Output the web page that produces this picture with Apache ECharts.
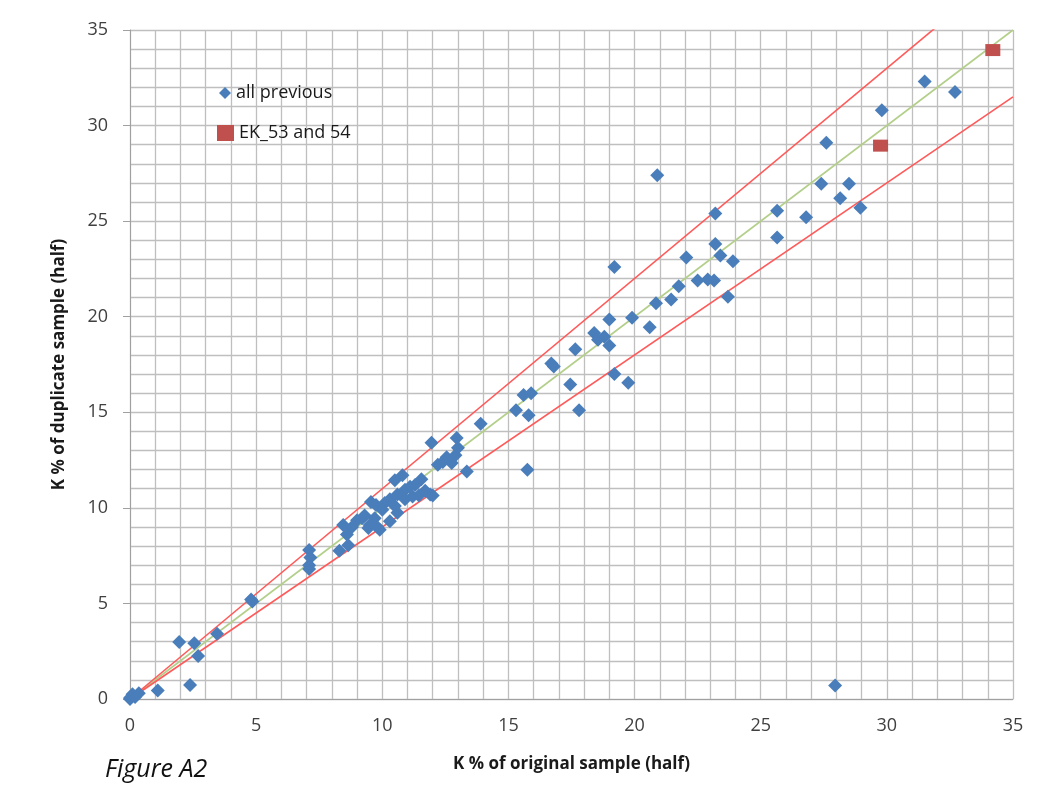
<!DOCTYPE html>
<html>
<head>
<meta charset="utf-8">
<script src="https://cdn.jsdelivr.net/npm/echarts@6/dist/echarts.min.js"></script>
<style>
  html, body { margin: 0; padding: 0; background: #fff; }
  #chart { width: 1061px; height: 796px; }
</style>
</head>
<body>
<div id="chart"></div>
<script>
// K % original (x) vs duplicate (y)
var prevX = [0, 0.05, 0.1, 0.2, 0.35, 0, 1.1, 1.95, 2.55, 2.7, 2.38, 3.45, 4.8, 4.85,
  7.1, 7.15, 7.1, 7.1,
  8.3, 8.45, 8.6, 8.65, 8.8, 9.0, 9.2, 9.3, 9.5, 9.45, 9.55, 9.7, 9.8, 9.9, 9.75, 10.0,
  10.1, 10.3, 10.5, 10.3, 10.6, 10.6, 10.5, 10.8, 10.9, 10.9, 11.1, 11.2, 11.3, 11.45,
  11.55, 11.7, 11.9, 12.0, 11.95, 12.2, 12.4, 12.55, 12.75, 12.9, 13.0, 12.95, 13.35, 13.9,
  15.3, 15.6, 15.9, 15.8, 15.75, 16.7, 16.8, 17.45, 17.65, 17.8, 18.4, 18.55, 18.8, 19.0,
  19.0, 19.2, 19.2, 19.75, 19.9, 20.6, 20.85, 20.9, 21.45, 21.75, 22.05, 22.5, 22.9, 23.15,
  23.2, 23.2, 23.4, 23.7, 23.9,
  25.65, 25.65, 26.8, 27.4, 27.6, 27.95, 28.15, 28.5, 28.95, 29.8, 31.5, 32.7];
var prevY = [0, 0.1, 0.25, 0.1, 0.3, 0.05, 0.45, 2.98, 2.92, 2.25, 0.73, 3.42, 5.2, 5.1,
  7.8, 7.4, 7.0, 6.8,
  7.75, 9.1, 8.6, 8.05, 9.0, 9.35, 9.45, 9.6, 9.1, 8.95, 10.3, 9.45, 9.0, 8.85, 10.15, 9.9,
  10.25, 10.45, 10.1, 9.3, 10.7, 9.75, 11.45, 11.7, 10.95, 10.45, 11.1, 10.6, 11.2, 10.65,
  11.5, 10.9, 10.7, 10.65, 13.4, 12.25, 12.4, 12.65, 12.35, 12.75, 13.15, 13.65, 11.9, 14.4,
  15.1, 15.9, 16.0, 14.85, 12.0, 17.55, 17.4, 16.45, 18.3, 15.1, 19.15, 18.8, 18.95, 19.85,
  18.5, 17.0, 22.6, 16.55, 19.95, 19.45, 20.7, 27.4, 20.9, 21.6, 23.1, 21.9, 21.95, 21.9,
  25.4, 23.8, 23.2, 21.05, 22.9,
  25.55, 24.15, 25.2, 26.95, 29.1, 0.7, 26.2, 26.95, 25.7, 30.8, 32.3, 31.75];
var ekX = [29.75, 34.2];
var ekY = [28.95, 33.95];

// reference lines: 1:1 and +/-10 %
var oneToOne = [[0, 0], [35, 35]];
var upperTen = [[0, 0], [35, 38.5]];
var lowerTen = [[0, 0], [35, 31.5]];
var axisTicks = [0, 5, 10, 15, 20, 25, 30, 35];

function zip(xs, ys) {
  return xs.map(function (x, i) { return [x, ys[i]]; });
}

var font = 'Open Sans';
var gridColor = '#bfbfbf';
var chart = echarts.init(document.getElementById('chart'));

var legendText = { fontSize: 18, color: '#1a1a1a', fontFamily: font };

var option = {
  animation: false,
  textStyle: { fontFamily: font },
  grid: { left: 130, right: 48, top: 30, bottom: 97 },
  legend: [
    {
      left: 214,
      top: 79,
      itemWidth: 12,
      itemHeight: 12,
      itemGap: 5,
      textStyle: legendText,
      data: [{ name: 'all previous', icon: 'diamond' }]
    },
    {
      left: 212,
      top: 119,
      itemWidth: 17,
      itemHeight: 16,
      itemGap: 5,
      textStyle: legendText,
      data: [{ name: 'EK_53 and 54', icon: 'rect' }]
    }
  ],
  xAxis: {
    type: 'value',
    min: axisTicks[0],
    max: axisTicks[axisTicks.length - 1],
    interval: 5,
    name: 'K % of original sample (half)',
    nameLocation: 'middle',
    nameGap: 57,
    nameTextStyle: { fontSize: 17, fontWeight: 'bold', color: '#1a1a1a' },
    axisLine: { lineStyle: { color: '#a0a0a0' } },
    axisTick: { show: false },
    axisLabel: { fontSize: 18, color: '#404040', margin: 18 },
    splitLine: { lineStyle: { color: gridColor, width: 1.3 } },
    minorTick: { show: false, splitNumber: 5 },
    minorSplitLine: { show: true, lineStyle: { color: gridColor, width: 1.3 } }
  },
  yAxis: {
    type: 'value',
    min: axisTicks[0],
    max: axisTicks[axisTicks.length - 1],
    interval: 5,
    name: 'K % of duplicate sample (half)',
    nameLocation: 'middle',
    nameGap: 62,
    nameTextStyle: { fontSize: 17, fontWeight: 'bold', color: '#1a1a1a' },
    axisLine: { show: true, lineStyle: { color: '#a0a0a0' } },
    axisTick: { show: true, length: 7, lineStyle: { color: '#a0a0a0' } },
    axisLabel: { fontSize: 18, color: '#404040', margin: 22 },
    splitLine: { lineStyle: { color: gridColor, width: 1.3 } },
    minorTick: { show: false, splitNumber: 5 },
    minorSplitLine: { show: true, lineStyle: { color: gridColor, width: 1.3 } }
  },
  graphic: [
    {
      type: 'text',
      left: 105,
      top: 757,
      style: { text: 'Figure A2', fontSize: 25, fontStyle: 'italic', fill: '#111', fontFamily: font }
    }
  ],
  series: [
    {
      name: '1:1',
      type: 'line',
      data: oneToOne,
      symbol: 'none',
      silent: true,
      lineStyle: { color: '#b3cf8a', width: 1.6 },
      z: 1
    },
    {
      name: '+10%',
      type: 'line',
      data: upperTen,
      symbol: 'none',
      silent: true,
      clip: true,
      lineStyle: { color: '#ff5a5a', width: 1.6 },
      z: 1
    },
    {
      name: '-10%',
      type: 'line',
      data: lowerTen,
      symbol: 'none',
      silent: true,
      lineStyle: { color: '#ff5a5a', width: 1.6 },
      z: 1
    },
    {
      name: 'all previous',
      type: 'scatter',
      symbol: 'diamond',
      symbolSize: 14,
      itemStyle: { color: '#4a7ebb', opacity: 1 },
      data: zip(prevX, prevY),
      z: 3
    },
    {
      name: 'EK_53 and 54',
      type: 'scatter',
      symbol: 'rect',
      symbolSize: [15, 12],
      itemStyle: { color: '#c0504d', opacity: 1 },
      data: zip(ekX, ekY),
      z: 4
    }
  ]
};

chart.setOption(option);
</script>
</body>
</html>
